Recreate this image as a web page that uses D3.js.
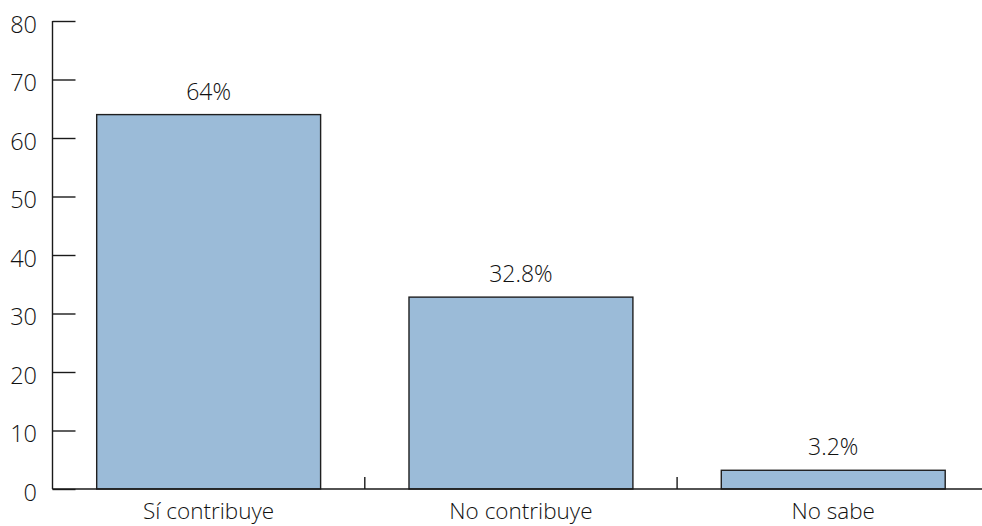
<!DOCTYPE html>
<html><head><meta charset="utf-8">
<script src="https://cdn.jsdelivr.net/npm/d3@7"></script>
<style>body{margin:0;background:#fff}svg{display:block}text{font-family:"Open Sans","Noto Sans",sans-serif;font-weight:300;fill:#111}</style>
</head><body><svg id="c" width="982" height="526"></svg>
<script>
const categories = ["Sí contribuye", "No contribuye", "No sabe"];
const values = [64, 32.8, 3.2];
const valueLabels = ["64%", "32.8%", "3.2%"];
const yTicks = [0, 10, 20, 30, 40, 50, 60, 70, 80];

const svg = d3.select("#c");
const x0 = 52.5, bandStep = 312.3;
const x = d3.scaleBand().domain(categories).range([x0, x0 + bandStep * 3]).paddingInner(0.283).paddingOuter(0.1415);
const y = d3.scaleLinear().domain([0, 80]).range([489, 21]);

// bars
svg.selectAll("rect.bar").data(values).enter().append("rect")
  .attr("x", (d, i) => x(categories[i]))
  .attr("y", d => y(d))
  .attr("width", x.bandwidth())
  .attr("height", d => y(0) - y(d))
  .attr("fill", "#9bbbd8").attr("stroke", "#1f1f1f").attr("stroke-width", 1.4);

// value labels
svg.selectAll("text.val").data(values).enter().append("text")
  .attr("x", (d, i) => x(categories[i]) + x.bandwidth() / 2)
  .attr("y", d => y(d) - 15)
  .attr("text-anchor", "middle").attr("font-size", 23).text((d, i) => valueLabels[i]);

// y axis
const ya = svg.append("g").attr("transform", `translate(${x0},0)`)
  .call(d3.axisRight(y).tickValues(yTicks).tickSize(23).tickFormat(""));
ya.select(".domain").remove();
ya.selectAll(".tick line").attr("stroke", "#1a1a1a").attr("stroke-width", 1.4);
svg.append("line").attr("x1", x0).attr("x2", x0).attr("y1", y(80)).attr("y2", y(0)).attr("stroke", "#1a1a1a").attr("stroke-width", 1.4);
svg.selectAll("text.yl").data(yTicks).enter().append("text")
  .attr("x", 37).attr("y", d => y(d)).attr("dy", "0.5em")
  .attr("text-anchor", "end").attr("font-size", 23.5).text(d => d);

// x axis
svg.append("line").attr("x1", x0).attr("x2", 982).attr("y1", y(0)).attr("y2", y(0)).attr("stroke", "#1a1a1a").attr("stroke-width", 1.6);
const bounds = [1, 2].map(i => x0 + bandStep * i);
svg.selectAll("line.xt").data(bounds).enter().append("line")
  .attr("x1", d => d).attr("x2", d => d).attr("y1", y(0)).attr("y2", y(0) - 12)
  .attr("stroke", "#1a1a1a").attr("stroke-width", 1.4);
svg.selectAll("text.xl").data(categories).enter().append("text")
  .attr("x", d => x(d) + x.bandwidth() / 2).attr("y", 519)
  .attr("text-anchor", "middle").attr("font-size", 22.5).text(d => d);
</script></body></html>
